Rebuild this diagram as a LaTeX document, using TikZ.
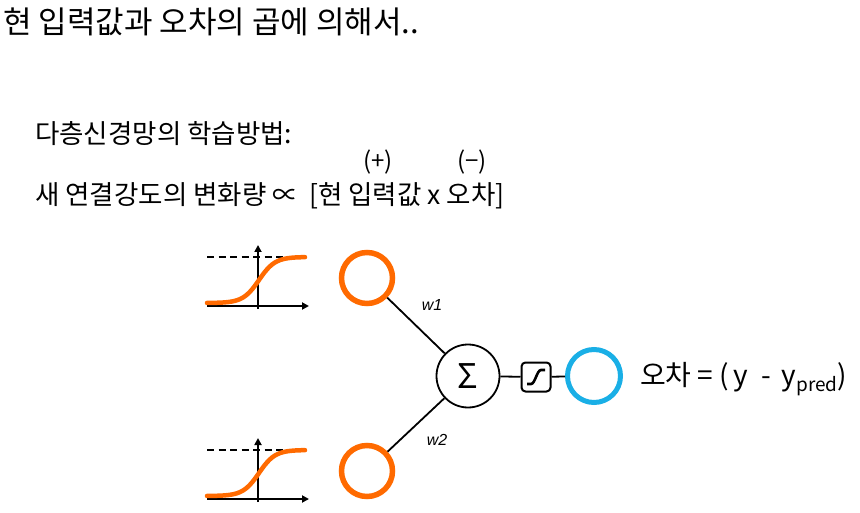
\documentclass[tikz,border=0pt]{standalone}
\usepackage{fontspec}
\setmainfont{Noto Sans CJK KR}
\setsansfont{Liberation Sans}
\usetikzlibrary{arrows.meta}
\definecolor{unitOrange}{HTML}{FF6A00}
\definecolor{unitBlue}  {HTML}{1AAFE6}

\begin{document}
\begin{tikzpicture}[x=1pt, y=-1pt,
    inunit/.style={circle, draw=unitOrange, line width=5.5pt, minimum size=51pt, inner sep=0pt},
    outunit/.style={circle, draw=unitBlue, line width=5pt, minimum size=53pt, inner sep=0pt},
    sumunit/.style={circle, draw, line width=1.8pt, minimum size=63pt, inner sep=0pt},
    actbox/.style={draw, line width=2pt, rounded corners=4pt, minimum size=29pt, inner sep=0pt},
    wire/.style={line width=1.8pt},
    axis/.style={line width=1.8pt, -{Triangle[length=7pt,width=7pt]}},
    txt/.style={anchor=west, inner sep=0pt}]
  \useasboundingbox (0,0) rectangle (860,513);

  % heading and rule text
  \node[txt, font=\fontsize{31}{31}\selectfont] (title) at (3,22) {현 입력값과 오차의 곱에 의해서..};
  \node[txt, font=\fontsize{26.5}{26.5}\selectfont] (rulehead) at (35,134) {다층신경망의 학습방법:};
  \node[font=\fontsize{24}{24}\selectfont, inner sep=0pt] (signp) at (378,162) {(+)};
  \node[font=\fontsize{24}{24}\selectfont, inner sep=0pt] (signm) at (472,162) {(−)};
  \node[txt, font=\fontsize{26.5}{26.5}\selectfont] (rule) at (35,196) {새 연결강도의 변화량 ∝ \,[현 입력값 x 오차]};

  % sigmoid plots of the inputs
  \foreach \oy in {0,193}{
    \draw[line width=1.6pt, dash pattern=on 7pt off 4.5pt] (207,257+\oy) -- (307,257+\oy);
    \draw[axis] (207,306+\oy) -- (309,306+\oy);
    \draw[axis] (258,309+\oy) -- (258,245+\oy);
    \draw[unitOrange, line width=4.5pt, line cap=round]
      plot[smooth, samples=40, domain=0:98] ({207+\x}, {303+\oy-46/(1+exp(-(\x-52)/8))});
  }

  % units
  \node[inunit] (in1) at (367,278) {};
  \node[inunit] (in2) at (367,471) {};
  \node[sumunit, font=\fontsize{34}{34}\selectfont] (sum) at (468,376) {Σ};
  \node[actbox] (act) at (536,377) {};
  \node[outunit] (out) at (594,376) {};

  \draw[line width=2.6pt] ([shift={(-9,7)}]act.center) -- ([shift={(-5,7)}]act.center)
    .. controls ([shift={(-1,7)}]act.center) and ([shift={(1,-7)}]act.center) .. ([shift={(5,-7)}]act.center)
    -- ([shift={(9,-7)}]act.center);

  % connections
  \draw[wire] (in1) -- (sum);
  \draw[wire] (in2) -- (sum);
  \draw[wire] (sum) -- (act);
  \draw[wire] (act) -- (out);

  \node[font=\sffamily\itshape\fontsize{16}{16}\selectfont] (w1) at (432,305) {w1};
  \node[font=\sffamily\itshape\fontsize{16}{16}\selectfont] (w2) at (437,440) {w2};

  \node[txt, font=\fontsize{28}{28}\selectfont] (err) at (640,379)
    {오차 = (\,y \ -\ \,y\raisebox{-6pt}{\fontsize{19}{19}\selectfont pred})};
\end{tikzpicture}
\end{document}
